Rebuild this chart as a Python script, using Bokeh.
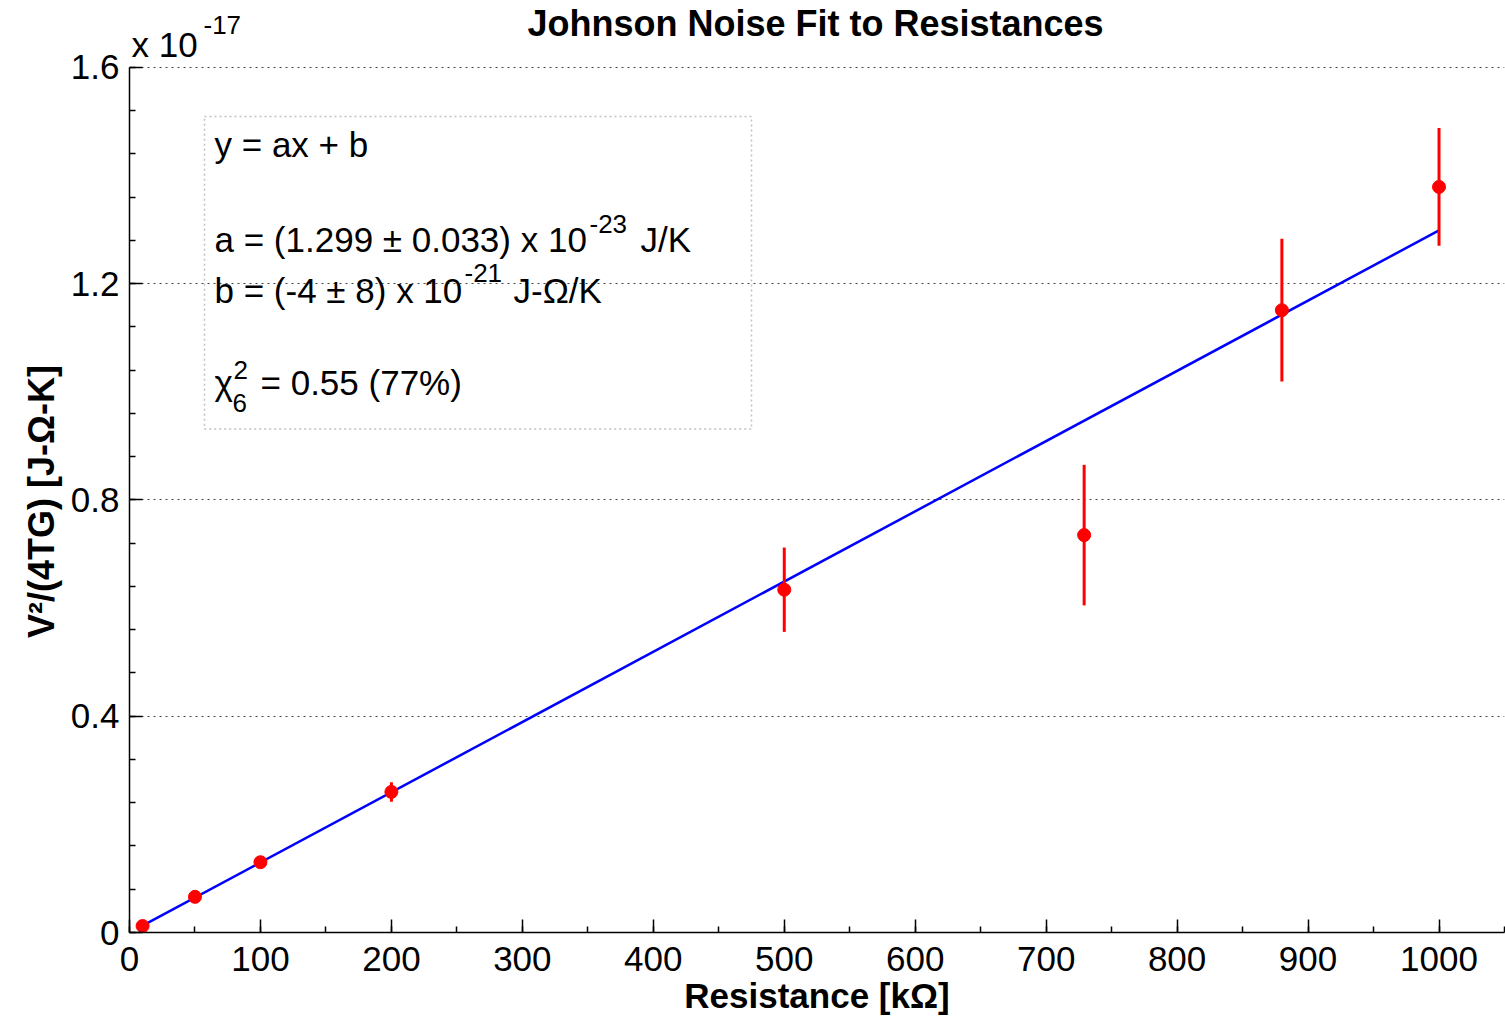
from bokeh.plotting import figure
from bokeh.models import Label, BoxAnnotation, SingleIntervalTicker, Range1d
from bokeh.embed import file_html
from bokeh.resources import INLINE

# Measured Johnson noise, V^2/(4TG) in units of 1e-17 J-Ohm-K, vs resistance in kOhm
resistance_kohm = [10, 50, 100, 200, 500, 729, 880, 1000]
noise_power = [0.012, 0.066, 0.130, 0.260, 0.634, 0.735, 1.151, 1.379]
noise_err = [0.005, 0.007, 0.009, 0.018, 0.078, 0.130, 0.132, 0.109]

# Linear fit y = a x + b
fit_a = 1.299       # x 1e-23 J/K
fit_a_err = 0.033
fit_b = -4          # x 1e-21 J-Ohm/K
fit_b_err = 8
chi2_red = 0.55
chi2_dof = 6
chi2_prob = 77
fit_range_kohm = [10, 1000]

# a [1e-23 J/K] * R [1e3 Ohm] -> 1e-20 ; b [1e-21] -> 1e-4 of the 1e-17 plot unit
fit_y = [fit_a * 1e-3 * r + fit_b * 1e-4 for r in fit_range_kohm]

W, H = 1505, 1017
LEFT, RIGHT, BOTTOM = 129, 1, 84
AXIS_TOP_PX = 67            # canvas row of the top of the y axis (value Y_MAX)
X_MAX, Y_MAX = 1050, 1.6
FONT = "Liberation Sans"

# the frame runs to the top of the canvas so that the heading texts sit inside it;
# the y axis itself stops at Y_MAX
px_per_y = (H - BOTTOM - AXIS_TOP_PX) / Y_MAX
Y_TOP = (H - BOTTOM) / px_per_y

p = figure(
    width=W, height=H,
    x_range=Range1d(0, X_MAX), y_range=Range1d(0, Y_TOP),
    output_backend="svg", toolbar_location=None,
    min_border_left=LEFT, min_border_right=RIGHT,
    min_border_top=0, min_border_bottom=BOTTOM,
)
p.outline_line_color = None
p.background_fill_color = "white"
p.border_fill_color = "white"

# axes
p.xaxis.ticker = SingleIntervalTicker(interval=100, num_minor_ticks=2)
p.yaxis.ticker = SingleIntervalTicker(interval=0.4, num_minor_ticks=5)
p.yaxis.bounds = (0, Y_MAX)
p.yaxis.major_label_overrides = {0: "0"}
p.xaxis.axis_label = "Resistance [kΩ]"
# trailing no-break spaces keep the label centred on the drawn part of the axis
p.yaxis.axis_label = "V²/(4TG) [J-Ω-K]" + "\u00a0" * 7
for ax in (p.xaxis, p.yaxis):
    ax.axis_line_color = "black"
    ax.axis_line_width = 1.5
    ax.major_tick_line_color = "black"
    ax.minor_tick_line_color = "black"
    ax.major_tick_line_width = 1.5
    ax.minor_tick_line_width = 1.5
    ax.major_tick_in = 13
    ax.major_tick_out = 0
    ax.minor_tick_in = 6
    ax.minor_tick_out = 0
    ax.major_label_text_font = FONT
    ax.major_label_text_font_size = "35px"
    ax.major_label_text_color = "black"
    ax.axis_label_text_font = FONT
    ax.axis_label_text_font_style = "bold"
    ax.axis_label_text_color = "black"
p.xaxis.axis_label_text_font_size = "35px"
p.yaxis.axis_label_text_font_size = "36px"
p.xaxis.major_label_standoff = 14
p.xaxis.axis_label_standoff = 2
p.yaxis.major_label_standoff = 10
p.yaxis.axis_label_standoff = 6

p.xgrid.visible = False
p.ygrid.grid_line_color = "#444444"
p.ygrid.grid_line_dash = "2 4"
p.ygrid.grid_line_width = 1.2

# fit line, error bars and data points
p.line(fit_range_kohm, fit_y, line_color="#0000ff", line_width=2.5)
lo = [v - e for v, e in zip(noise_power, noise_err)]
hi = [v + e for v, e in zip(noise_power, noise_err)]
p.segment(x0=resistance_kohm, y0=lo, x1=resistance_kohm, y1=hi,
          line_color="#ff0000", line_width=3)
p.scatter(resistance_kohm, noise_power, size=13, marker="circle",
          fill_color="#ff0000", line_color="#ff0000")

# annotation placement helpers: canvas pixels -> data coordinates
frame_w = W - LEFT - RIGHT


def dx(px):
    return (px - LEFT) / frame_w * X_MAX


def dy(py):
    return (H - BOTTOM - py) / px_per_y


def text(px, py, s, size=35, align="left", style="normal"):
    # py is the wanted baseline row; the label anchor sits about 0.37 em lower
    p.add_layout(Label(x=dx(px), y=dy(py - 0.37 * size), text=s, text_font=FONT,
                       text_font_size=f"{size}px", text_color="black",
                       text_font_style=style,
                       text_align=align, text_baseline="alphabetic"))


# heading
text(815, 36, "Johnson Noise Fit to Resistances", 36, "center", "bold")

# axis exponent
text(131, 57, "x 10")
text(203, 34, "-17", 26)

# fit result box
p.add_layout(BoxAnnotation(left=dx(204), right=dx(751), top=dy(116), bottom=dy(429),
                           fill_color=None, line_color="#333333",
                           line_dash="2 3", line_width=1.5))
text(214, 157, "y = ax + b")
text(214, 252, f"a = ({fit_a:.3f} ± {fit_a_err:.3f}) x 10")
text(589, 233, "-23", 26)
text(640, 252, "J/K")
text(214, 303, f"b = ({fit_b} ± {fit_b_err}) x 10")
text(464, 282, "-21", 26)
text(513, 303, "J-Ω/K")
text(214, 395, "χ")
text(233, 380, "2", 26)
text(232, 413, f"{chi2_dof}", 26)
text(260, 395, f"= {chi2_red:.2f} ({chi2_prob}%)")

open("out.html", "w").write(file_html(p, INLINE))
